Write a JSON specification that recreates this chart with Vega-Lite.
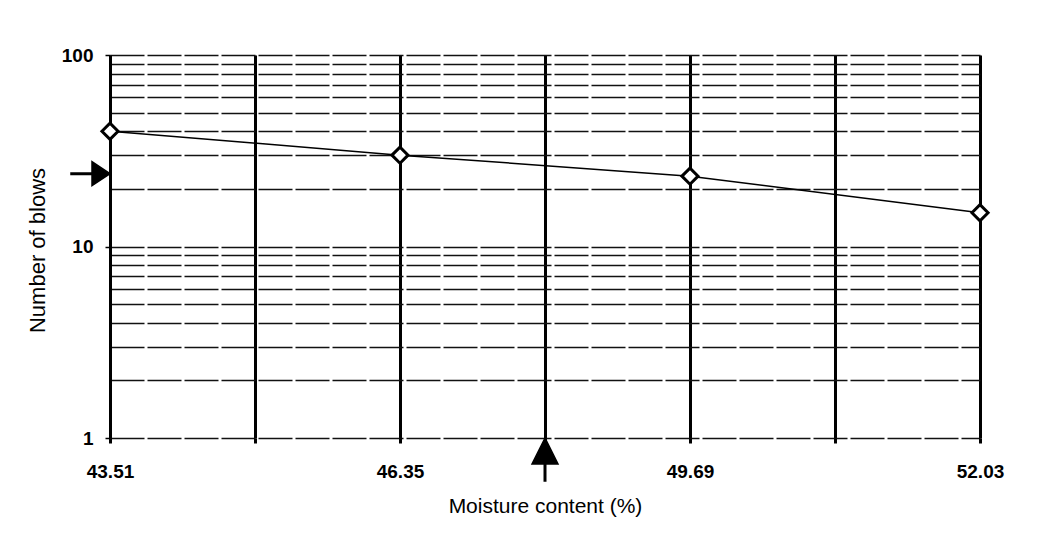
{
  "$schema": "https://vega.github.io/schema/vega-lite/v6.json",
  "width": 870,
  "height": 383,
  "autosize": "none",
  "padding": {"left": 110, "top": 55, "right": 62, "bottom": 100},
  "background": "white",
  "config": {
    "view": {"stroke": null},
    "font": "Liberation Sans"
  },
  "data": {
    "values": [
      {"moisture": "43.51", "blows": 40},
      {"moisture": "46.35", "blows": 30},
      {"moisture": "49.69", "blows": 23.3},
      {"moisture": "52.03", "blows": 15}
    ]
  },
  "encoding": {
    "x": {
      "field": "moisture",
      "type": "ordinal",
      "sort": null,
      "scale": {
        "type": "point",
        "domain": ["43.51", " ", "46.35", "  ", "49.69", "   ", "52.03"],
        "padding": 0
      },
      "axis": {
        "title": "Moisture content (%)",
        "labelAngle": 0,
        "labelFontSize": 19,
        "labelFontWeight": "bold",
        "labelColor": "black",
        "labelPadding": 19,
        "tickSize": 5,
        "tickWidth": 3,
        "tickColor": "black",
        "domain": false,
        "grid": true,
        "gridColor": "black",
        "gridWidth": 3,
        "gridOpacity": 1,
        "titleFontSize": 21,
        "titleFontWeight": "normal",
        "titleColor": "black",
        "titleY": 68,
        "titleBaseline": "middle"
      }
    },
    "y": {
      "field": "blows",
      "type": "quantitative",
      "scale": {"type": "log", "domain": [1, 100]},
      "axis": {
        "title": "Number of blows",
        "values": [1, 2, 3, 4, 5, 6, 7, 8, 9, 10, 20, 30, 40, 50, 60, 70, 80, 90, 100],
        "labelExpr": "indexof([1, 10, 100], datum.value) >= 0 ? datum.value : ''",
        "labelFontSize": 19,
        "labelFontWeight": "bold",
        "labelColor": "black",
        "labelPadding": 12,
        "tickSize": 5,
        "tickWidth": 1.5,
        "tickColor": "black",
        "tickOpacity": {"expr": "indexof([1, 10, 100], datum.value) >= 0 ? 1 : 0"},
        "domain": true,
        "domainColor": "black",
        "domainWidth": 3,
        "grid": true,
        "gridColor": "#111111",
        "gridWidth": 1.4,
        "gridDash": [34, 3],
        "gridOpacity": 1,
        "titleFontSize": 22,
        "titleFontWeight": "normal",
        "titleColor": "black",
        "titleX": -73,
        "titleY": 195,
        "titleBaseline": "middle"
      }
    }
  },
  "layer": [
    {
      "mark": {"type": "line", "color": "black", "strokeWidth": 1.5}
    },
    {
      "mark": {
        "type": "point",
        "shape": "diamond",
        "filled": true,
        "fill": "white",
        "stroke": "black",
        "strokeWidth": 3,
        "size": 260,
        "opacity": 1
      }
    },
    {
      "data": {
        "values": [
          {"moisture": "43.51", "blows": 24, "arrow": "left"},
          {"moisture": "  ", "blows": 1, "arrow": "up"}
        ]
      },
      "mark": {
        "type": "point",
        "filled": true,
        "fill": "black",
        "stroke": "black",
        "strokeWidth": 1.5,
        "size": 100,
        "opacity": 1,
        "clip": false
      },
      "encoding": {
        "shape": {
          "field": "arrow",
          "type": "nominal",
          "scale": {
            "domain": ["left", "up"],
            "range": [
              "M0,0 L-3.6,-2.4 L-3.6,2.4 Z M-3.6,-0.15 L-7.8,-0.15 L-7.8,0.15 L-3.6,0.15 Z",
              "M0,0 L-2.6,5.2 L2.6,5.2 Z M-0.15,5.2 L0.15,5.2 L0.15,8.6 L-0.15,8.6 Z"
            ]
          },
          "legend": null
        }
      }
    }
  ]
}
